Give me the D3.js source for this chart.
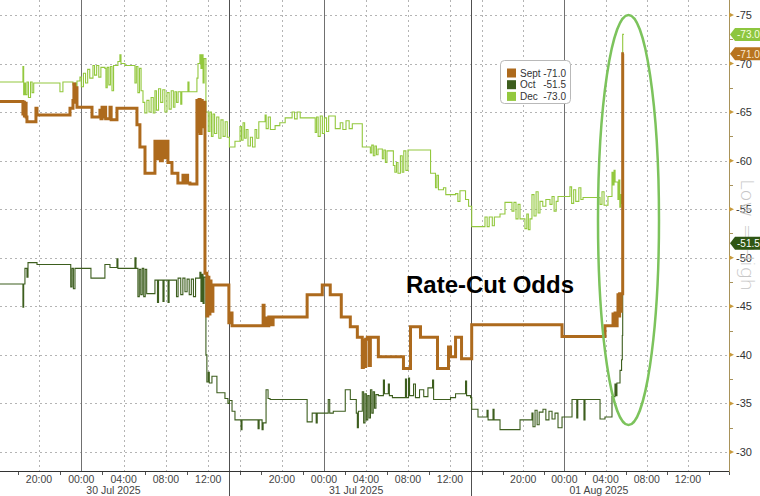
<!DOCTYPE html>
<html><head><meta charset="utf-8">
<script src="https://cdn.jsdelivr.net/npm/d3@7"></script>
<style>
html,body{margin:0;padding:0;background:#fff;}
svg{display:block;}
</style></head>
<body><svg id="chart" width="760" height="496"></svg>
<script>
// ---- DATA (time = hours since 29 Jul 2025 00:00, value = implied bps change) ----
const sept = [
[16.0,-66.1],[18.48,-64.8],[18.55,-66.0],[18.62,-64.6],[18.70,-65.9],[18.78,-64.5],[18.86,-64.0],
[19.71,-65.4],[19.81,-64.7],[22.93,-65.4],[23.21,-66.2],[23.30,-67.9],[23.38,-66.0],[23.46,-67.5],
[23.59,-65.5],[25.01,-64.5],[25.76,-65.2],[25.86,-64.3],[25.96,-65.5],[26.06,-64.5],[26.14,-65.5],
[26.30,-64.3],[26.71,-65.5],[26.82,-64.2],[27.37,-65.4],[29.26,-63.7],[29.54,-61.4],[30.02,-58.7],
[30.96,-62.0],[31.12,-60.2],[31.30,-62.0],[31.48,-60.0],[31.66,-62.0],[31.84,-60.3],[32.02,-62.0],
[32.19,-59.8],[32.57,-58.7],[33.13,-57.7],[33.61,-58.5],[33.75,-57.7],[33.90,-58.5],[34.05,-57.7],
[34.27,-57.6],[34.93,-66.2],[35.03,-63.0],[35.13,-66.3],[35.23,-62.8],[35.33,-66.2],[35.43,-63.5],
[35.53,-66.0],[35.69,-48.4],[35.87,-44.0],[35.96,-48.0],[36.06,-44.2],[36.16,-47.6],[36.26,-44.5],
[36.44,-47.2],[37.95,-43.3],[39.10,-44.3],[39.25,-43.0],[42.21,-45.1],[42.30,-43.0],[42.40,-43.8],
[42.55,-43.0],[42.75,-43.9],[42.95,-43.1],[43.16,-43.9],[46.40,-46.2],[47.84,-47.2],[48.60,-46.2],
[49.65,-43.9],[50.51,-42.9],[51.18,-41.8],[51.65,-38.7],[51.75,-41.5],[51.85,-38.8],[51.97,-41.6],
[52.13,-41.8],[52.30,-38.9],[52.42,-41.8],[53.18,-39.8],[55.57,-38.6],[56.24,-42.9],[57.19,-41.8],
[58.81,-38.6],[59.86,-40.8],[60.05,-39.8],[60.53,-41.8],[61.10,-39.6],[63.0,-43.1],[71.77,-41.9],
[75.94,-43.0],[76.72,-44.2],[76.82,-43.0],[76.92,-44.3],[77.02,-43.0],[77.12,-44.2],[77.20,-46.2],
[77.28,-44.0],[77.36,-46.3],[77.44,-44.5],[77.52,-46.3],[77.66,-71.0],[77.78,-71.0]
];
const oct = [
[16.0,-47.3],[18.48,-44.9],[18.55,-47.3],[18.67,-48.9],[18.86,-48.0],[18.96,-49.5],[19.81,-49.3],
[23.0,-47.0],[23.12,-48.9],[23.25,-46.8],[23.40,-48.9],[24.91,-47.9],[26.23,-49.3],[26.71,-49.0],
[27.37,-49.9],[27.46,-48.9],[29.07,-50.0],[29.17,-48.9],[29.35,-46.0],[29.48,-48.8],[29.62,-46.2],
[29.76,-48.9],[29.90,-46.0],[30.04,-48.8],[30.18,-46.3],[30.96,-47.7],[31.20,-45.4],[31.30,-47.7],
[31.72,-45.5],[31.82,-47.7],[32.20,-45.4],[32.30,-47.7],[33.00,-46.0],[33.15,-47.9],[33.40,-46.2],
[33.60,-47.9],[33.80,-46.5],[34.00,-47.8],[34.20,-46.2],[34.40,-47.8],[34.60,-46.0],[34.80,-47.9],
[35.21,-48.5],[35.31,-45.5],[35.41,-48.3],[35.51,-45.3],[35.61,-48.0],[35.78,-40.0],[35.87,-37.2],
[36.00,-38.2],[36.10,-37.1],[36.35,-37.8],[36.82,-36.1],[37.58,-35.5],[37.86,-35.0],[39.0,-35.3],
[39.25,-34.2],[39.53,-33.3],[40.11,-32.3],[40.20,-33.3],[41.73,-32.4],[41.83,-33.3],[42.11,-32.3],
[42.21,-33.0],[42.49,-36.4],[42.68,-35.5],[42.87,-35.4],[46.40,-33.1],[46.88,-34.0],[47.26,-33.0],
[47.36,-34.0],[48.41,-35.4],[48.55,-34.0],[48.89,-34.2],[50.03,-36.4],[50.51,-35.4],[51.08,-34.0],
[51.18,-32.5],[51.28,-34.2],[51.65,-36.2],[51.78,-33.0],[51.91,-36.0],[52.04,-33.3],[52.17,-35.8],
[52.30,-33.5],[52.43,-36.4],[52.56,-34.0],[52.69,-36.2],[52.82,-34.5],[52.95,-35.9],[53.18,-35.8],
[53.66,-37.4],[53.76,-36.0],[54.13,-37.0],[54.23,-35.8],[54.52,-35.6],[55.76,-37.5],[55.86,-35.6],
[56.05,-37.6],[56.15,-35.8],[56.53,-37.0],[56.71,-35.6],[57.1,-36.4],[57.5,-35.7],[57.9,-36.6],
[58.34,-37.4],[58.44,-35.4],[60.05,-35.6],[60.53,-36.0],[61.48,-37.3],[61.58,-35.8],[61.96,-35.6],
[63.0,-34.4],[63.61,-33.6],[64.49,-34.3],[64.59,-33.3],[65.07,-34.4],[65.17,-33.3],[65.75,-32.3],
[67.69,-33.3],[68.85,-34.0],[68.95,-32.6],[69.15,-34.3],[69.35,-32.8],[69.55,-34.1],[69.92,-34.4],
[70.2,-33.3],[70.5,-34.2],[70.8,-33.4],[71.09,-34.0],[71.38,-32.5],[71.77,-33.6],[72.74,-35.4],
[73.2,-33.5],[73.3,-35.4],[73.9,-33.3],[74.0,-35.4],[75.46,-33.4],[75.94,-33.6],[76.62,-35.7],
[76.91,-37.0],[77.0,-35.8],[77.1,-37.1],[77.40,-38.4],[77.55,-39.5],[77.62,-42.0],[77.66,-51.5],
[77.78,-51.5]
];
const dec = [
[16.0,-68.1],[18.48,-69.7],[18.55,-66.8],[18.62,-68.0],[18.72,-66.8],[18.86,-68.1],[19.0,-66.5],
[19.2,-68.1],[19.35,-67.0],[19.5,-68.0],[21.98,-67.1],[22.26,-68.1],[23.21,-67.8],[23.30,-66.8],
[23.38,-68.0],[23.48,-66.6],[23.59,-68.2],[23.87,-68.6],[24.0,-67.6],[24.2,-69.0],[24.4,-68.0],
[24.6,-69.4],[24.8,-68.5],[25.10,-69.8],[25.25,-68.8],[25.45,-69.8],[25.65,-68.6],[25.85,-69.6],
[26.23,-69.5],[26.33,-67.5],[26.45,-69.6],[26.6,-67.8],[26.75,-69.7],[26.9,-67.2],[27.05,-69.8],
[27.46,-70.2],[27.65,-70.9],[27.75,-70.0],[28.12,-69.8],[29.07,-68.0],[29.2,-69.7],[29.35,-67.0],
[29.5,-69.5],[29.65,-67.2],[29.83,-66.0],[30.0,-64.9],[30.2,-66.2],[30.4,-65.0],[30.6,-66.5],
[30.8,-64.9],[30.96,-67.2],[31.1,-65.2],[31.3,-67.4],[31.5,-66.0],[31.7,-67.3],[31.9,-65.0],
[32.1,-67.0],[32.3,-65.3],[32.5,-67.2],[32.7,-65.5],[32.85,-67.1],[33.0,-66.0],[33.15,-67.1],
[33.4,-65.8],[33.5,-67.1],[34.08,-68.1],[34.18,-67.1],[34.93,-68.5],[35.03,-70.0],[35.21,-70.9],
[35.31,-69.5],[35.41,-70.9],[35.51,-68.0],[35.61,-70.5],[35.78,-65.0],[36.0,-63.0],[36.15,-65.0],
[36.3,-62.5],[36.45,-64.8],[36.6,-62.8],[36.8,-64.5],[37.0,-62.3],[37.2,-64.2],[37.4,-62.5],
[37.6,-64.0],[37.8,-62.4],[39.0,-61.4],[39.53,-62.0],[40.01,-63.5],[40.15,-62.1],[40.3,-63.9],
[40.45,-62.3],[40.6,-63.2],[40.77,-61.5],[41.0,-62.4],[41.2,-61.4],[41.44,-63.2],[41.6,-62.3],
[41.8,-64.0],[42.40,-64.7],[42.5,-63.3],[42.7,-64.5],[42.9,-63.2],[43.35,-63.6],[43.8,-63.9],
[44.31,-64.4],[44.97,-65.0],[45.2,-64.3],[45.45,-65.0],[45.74,-64.4],[47.17,-62.9],[47.3,-64.5],
[47.45,-62.5],[47.65,-64.6],[47.85,-62.8],[48.05,-64.4],[48.25,-63.0],[48.45,-64.6],[49.08,-63.3],
[49.55,-63.9],[49.8,-63.2],[50.1,-64.1],[50.4,-63.3],[50.7,-63.8],[51.65,-61.4],[52.42,-60.8],
[52.55,-61.6],[52.7,-60.5],[52.85,-61.5],[53.0,-60.6],[53.15,-61.2],[53.56,-60.2],[53.7,-61.1],
[53.85,-59.8],[54.0,-61.0],[54.61,-59.5],[54.75,-58.8],[54.9,-59.8],[55.05,-58.7],[55.28,-60.5],
[55.45,-58.8],[55.6,-61.0],[55.8,-59.0],[56.0,-61.1],[56.24,-61.1],[58.15,-58.7],[58.62,-57.2],
[58.75,-58.5],[58.9,-57.0],[59.38,-57.2],[59.6,-56.5],[60.53,-56.6],[60.75,-55.8],[60.95,-56.9],
[61.48,-56.0],[61.77,-55.3],[63.0,-53.2],[64.29,-54.2],[64.5,-53.2],[64.7,-54.2],[65.0,-53.3],
[65.2,-54.2],[65.75,-54.5],[66.23,-55.7],[66.91,-54.8],[67.1,-55.7],[67.3,-54.0],[67.5,-55.5],
[67.69,-54.0],[68.17,-53.0],[68.35,-54.5],[68.5,-52.9],[68.66,-54.0],[68.85,-56.5],[69.05,-54.3],
[69.25,-56.8],[69.45,-54.6],[69.63,-55.8],[69.9,-55.3],[70.2,-56.0],[70.6,-55.5],[70.8,-56.3],
[71.0,-54.8],[71.2,-55.8],[71.38,-56.3],[72.54,-57.3],[72.7,-55.6],[72.9,-57.0],[73.1,-55.8],
[73.4,-57.2],[73.6,-56.0],[73.81,-56.2],[75.46,-55.5],[75.65,-56.8],[75.85,-55.4],[76.23,-56.3],
[76.62,-58.8],[76.72,-57.5],[76.82,-59.0],[76.92,-57.8],[77.20,-56.0],[77.28,-58.0],[77.38,-55.2],
[77.46,-56.5],[77.55,-55.6],[77.66,-73.0],[77.78,-73.0]
];
const seriesNames = ["Sept", "Oct", "Dec"];
const lastValues = [-71.0, -51.5, -73.0];
const yTickValues = [-75, -70, -65, -60, -55, -50, -45, -40, -35, -30];
const yMinorValues = [-72.5, -67.5, -62.5, -57.5, -52.5, -47.5, -42.5, -37.5, -32.5];
const labelHours = [20, 24, 28, 32, 36, 44, 48, 52, 56, 60, 68, 72, 76, 80, 84];
const gridHours = [20, 24, 28, 32, 36, 40, 44, 48, 52, 56, 60, 64, 68, 72, 76, 80, 84, 88];
const minorTickHours = [18, 22, 26, 30, 34, 40, 42, 46, 50, 54, 58, 62, 64, 66, 70, 74, 78, 82, 86, 88];
const dayStartHours = [24, 48, 72];
const dayLabels = ["30 Jul 2025", "31 Jul 2025", "01 Aug 2025"];
const sessionBreakHours = [38.5, 62.5];
const titleText = "Rate-Cut Odds";
const sideText = "Low = High";

// ---- LAYOUT ----
const W = 760, H = 496, plotR = 729, plotB = 471;
const colors = {Sept: "#ad6a1d", Oct: "#3d5e1e", Dec: "#93c83e"};
const widths = {Sept: 3, Oct: 1.1, Dec: 1.1};

const svg = d3.select("#chart");
const x = d3.scaleLinear().domain([16, 38, 39, 62, 63, 90]).range([-3.3, 229.4, 229.4, 471, 471.7, 749.8]);
const y = d3.scaleLinear().domain([-76.54, -28.04]).range([0, plotB]);

svg.append("defs").append("clipPath").attr("id", "plot")
  .append("rect").attr("x", 0).attr("y", 0).attr("width", plotR).attr("height", plotB);

// gridlines
const grid = svg.append("g").attr("stroke", "#b4b4b4").attr("stroke-width", 1).attr("stroke-dasharray", "2,3");
grid.selectAll(".hg").data(yTickValues).join("line")
  .attr("x1", 0).attr("x2", plotR).attr("y1", d => Math.round(y(d)) + 0.5).attr("y2", d => Math.round(y(d)) + 0.5);
grid.selectAll(".vg").data(gridHours.filter(h => !dayStartHours.includes(h))).join("line")
  .attr("x1", d => Math.round(x(d)) + 0.5).attr("x2", d => Math.round(x(d)) + 0.5).attr("y1", 0).attr("y2", plotB);

// day lines
svg.append("g").selectAll("line").data(dayStartHours).join("line")
  .attr("x1", d => Math.round(x(d)) + 0.5).attr("x2", d => Math.round(x(d)) + 0.5)
  .attr("y1", 0).attr("y2", plotB).attr("stroke", "#707070").attr("stroke-width", 1);
// session breaks
svg.append("g").selectAll("line").data(sessionBreakHours).join("line")
  .attr("x1", d => Math.round(x(d)) + 0.5).attr("x2", d => Math.round(x(d)) + 0.5)
  .attr("y1", 0).attr("y2", H).attr("stroke", "#505050").attr("stroke-width", 1);

// series
const line = d3.line().x(d => x(d[0])).y(d => y(d[1])).curve(d3.curveStepAfter);
const seriesData = {Sept: sept, Oct: oct, Dec: dec};
const lines = svg.append("g").attr("clip-path", "url(#plot)");
["Dec", "Oct", "Sept"].forEach(name => {
  lines.append("path").datum(seriesData[name]).attr("d", line)
    .attr("fill", "none").attr("stroke", colors[name]).attr("stroke-width", widths[name])
    .attr("stroke-linejoin", "miter");
});

// bottom axis
svg.append("line").attr("x1", 0).attr("x2", plotR).attr("y1", plotB + 0.5).attr("y2", plotB + 0.5)
  .attr("stroke", "#333").attr("stroke-width", 1);
svg.append("g").selectAll("line").data(minorTickHours).join("line")
  .attr("x1", d => Math.round(x(d)) + 0.5).attr("x2", d => Math.round(x(d)) + 0.5)
  .attr("y1", plotB + 1).attr("y2", plotB + 4).attr("stroke", "#555");
const fmt = h => String(h % 24).padStart(2, "0") + ":00";
svg.append("g").selectAll("text").data(labelHours).join("text")
  .attr("x", d => x(d)).attr("y", 483).attr("text-anchor", "middle")
  .attr("font-family", "Liberation Sans, Arial, sans-serif").attr("font-size", 10.5).attr("fill", "#444")
  .text(fmt);
svg.append("g").selectAll("text").data(dayStartHours).join("text")
  .attr("x", (d, i) => x(d) + 5).attr("y", 493.5)
  .attr("font-family", "Liberation Sans, Arial, sans-serif").attr("font-size", 10.5).attr("fill", "#444")
  .text((d, i) => dayLabels[i]);

// right axis
svg.append("line").attr("x1", plotR + 0.5).attr("x2", plotR + 0.5).attr("y1", 0).attr("y2", plotB + 1)
  .attr("stroke", "#a8925a").attr("stroke-width", 1);
svg.append("g").selectAll("path").data(yTickValues).join("path")
  .attr("d", d => `M${plotR},${y(d) - 2.5}L${plotR + 5},${y(d)}L${plotR},${y(d) + 2.5}Z`)
  .attr("fill", "#c79a3c");
svg.append("g").selectAll("line").data(yMinorValues).join("line")
  .attr("x1", plotR).attr("x2", plotR + 4).attr("y1", d => Math.round(y(d)) + 0.5).attr("y2", d => Math.round(y(d)) + 0.5)
  .attr("stroke", "#a8925a");
svg.append("g").selectAll("text").data(yTickValues).join("text")
  .attr("x", 736).attr("y", d => y(d) + 4)
  .attr("font-family", "Liberation Sans, Arial, sans-serif").attr("font-size", 11).attr("fill", "#333")
  .text(d => d);

// side watermark
svg.append("text").attr("transform", "translate(741,235) rotate(90)")
  .attr("text-anchor", "middle").attr("font-family", "DejaVu Sans, sans-serif").attr("font-weight", 200)
  .attr("font-size", 18).attr("fill", "#c6c6c6")
  .attr("textLength", 112).attr("lengthAdjust", "spacingAndGlyphs").text(sideText);

// value tags
const tagStyle = {Sept: {bg: "#b8741f", fg: "#fbe9cf"}, Oct: {bg: "#2f5614", fg: "#ffffff"}, Dec: {bg: "#8dc63f", fg: "#f7ffe0"}};
const tags = svg.append("g");
seriesNames.forEach((name, i) => {
  const v = lastValues[i], yy = y(v);
  tags.append("path").attr("d", `M${plotR + 1},${yy}L${plotR + 6},${yy - 6.5}L${W},${yy - 6.5}L${W},${yy + 6.5}L${plotR + 6},${yy + 6.5}Z`)
    .attr("fill", tagStyle[name].bg);
  tags.append("text").attr("x", 737).attr("y", yy + 3.8)
    .attr("font-family", "Liberation Sans, Arial, sans-serif").attr("font-size", 10).attr("fill", tagStyle[name].fg)
    .text(v.toFixed(1));
});

// legend
const lg = svg.append("g");
lg.append("rect").attr("x", 500.5).attr("y", 60.5).attr("width", 70).attr("height", 43).attr("rx", 4)
  .attr("fill", "#fff").attr("stroke", "#b9b9b9");
seriesNames.forEach((name, i) => {
  const yy = 73 + i * 11.7;
  lg.append("rect").attr("x", 507).attr("y", yy - 4.5).attr("width", 9).attr("height", 9).attr("fill", colors[name]);
  lg.append("text").attr("x", 520).attr("y", yy + 3.5).attr("font-family", "Liberation Sans, Arial, sans-serif")
    .attr("font-size", 10).attr("fill", "#333").text(name);
  lg.append("text").attr("x", 566).attr("y", yy + 3.5).attr("text-anchor", "end").attr("font-family", "Liberation Sans, Arial, sans-serif")
    .attr("font-size", 10).attr("fill", "#333").text(lastValues[i].toFixed(1));
});

// annotation
svg.append("text").attr("x", 406).attr("y", 293).attr("font-family", "Liberation Sans, Arial, sans-serif")
  .attr("font-weight", "bold").attr("font-size", 24).attr("fill", "#000").text(titleText);
svg.append("ellipse").attr("cx", 628.5).attr("cy", 220).attr("rx", 30.5).attr("ry", 205)
  .attr("fill", "none").attr("stroke", "#7cc35c").attr("stroke-width", 2.5);
</script>
</body></html>
